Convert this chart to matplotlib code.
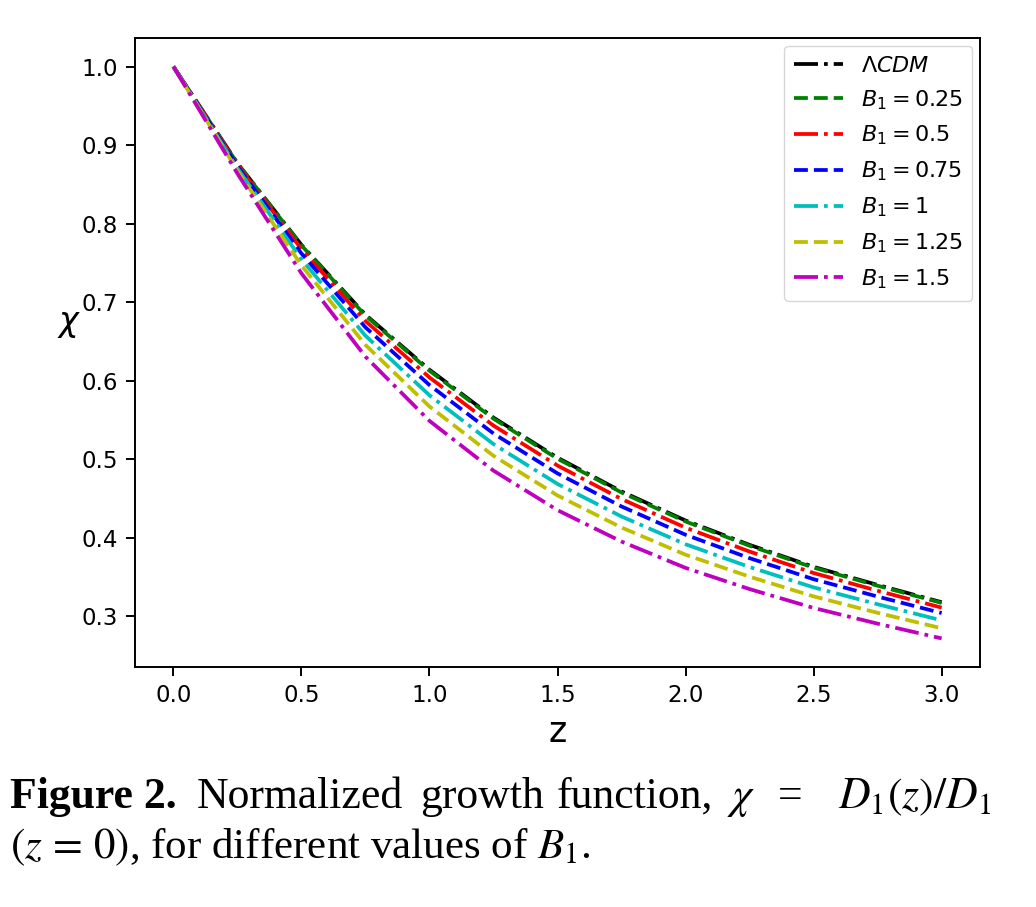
import matplotlib
matplotlib.use("Agg")
import matplotlib.pyplot as plt

# redshift grid and normalized growth chi = D1(z)/D1(z=0)
z = [0.0, 0.25, 0.5, 0.75, 1.0, 1.25, 1.5, 1.75, 2.0, 2.25, 2.5, 2.75, 3.0]

chi_lcdm = [1.000, 0.877, 0.773, 0.684, 0.614, 0.553, 0.502, 0.459, 0.422, 0.391, 0.363, 0.340, 0.318]
chi_b025 = [1.000, 0.8767, 0.7723, 0.6829, 0.6127, 0.5517, 0.5007, 0.4577, 0.4208, 0.3899, 0.3620, 0.3390, 0.3171]
chi_b05 = [1.000, 0.8750, 0.7676, 0.6760, 0.6042, 0.5429, 0.4920, 0.4494, 0.4129, 0.3825, 0.3552, 0.3326, 0.3111]
chi_b075 = [1.000, 0.8731, 0.7621, 0.6680, 0.5945, 0.5328, 0.4820, 0.4399, 0.4039, 0.3741, 0.3473, 0.3252, 0.3042]
chi_b1 = [1.000, 0.8704, 0.7548, 0.6573, 0.5815, 0.5193, 0.4686, 0.4271, 0.3918, 0.3628, 0.3369, 0.3154, 0.2949]
chi_b125 = [1.000, 0.8675, 0.7469, 0.6456, 0.5672, 0.5044, 0.4539, 0.4131, 0.3785, 0.3505, 0.3254, 0.3045, 0.2848]
chi_b15 = [1.000, 0.8638, 0.7367, 0.6306, 0.5489, 0.4855, 0.4352, 0.3952, 0.3617, 0.3347, 0.3107, 0.2907, 0.2719]

labels = [r'$\Lambda CDM$', r'$B_1 = 0.25$', r'$B_1 = 0.5$', r'$B_1 = 0.75$',
          r'$B_1 = 1$', r'$B_1 = 1.25$', r'$B_1 = 1.5$']
series = [chi_lcdm, chi_b025, chi_b05, chi_b075, chi_b1, chi_b125, chi_b15]
colors = ['k', 'g', 'r', 'b', 'c', 'y', 'm']
styles = ['-.', '--', '-.', '--', '-.', '--', '-.']

fig = plt.figure(figsize=(10.36, 9.07), dpi=100)
ax = fig.add_axes([0.1303, 0.2646, 0.8157, 0.6935])

for vals, lab, c, ls in zip(series, labels, colors, styles):
    ax.plot(z, vals, ls, color=c, label=lab, lw=2.7)

ax.set_xticks([0.0, 0.5, 1.0, 1.5, 2.0, 2.5, 3.0])
ax.set_yticks([0.3, 0.4, 0.5, 0.6, 0.7, 0.8, 0.9, 1.0])
ax.tick_params(labelsize=16.5, width=1.4, length=6.3, pad=6)
for sp in ax.spines.values():
    sp.set_linewidth(1.4)

ax.set_xlabel('z', fontsize=25, labelpad=6)
ax.set_ylabel(r'$\chi$', fontsize=24, rotation=0)
ax.yaxis.set_label_coords(-0.078, 0.52)

ax.legend(loc='upper right', fontsize=16, handlelength=2.2, borderpad=0.45,
          labelspacing=0.55, framealpha=0.8, borderaxespad=0.35)

# caption below the chart
cap = dict(fontsize=31.5, family='Liberation Serif', math_fontfamily='stix', va='baseline')
y1 = 1 - 808 / 907
fig.text(10 / 1036, y1, 'Figure 2.', weight='bold', **cap)
fig.text(197 / 1036, y1, 'Normalized', **cap)
fig.text(420 / 1036, y1, 'growth', **cap)
fig.text(557 / 1036, y1, 'function,', **cap)
fig.text(727 / 1036, y1, r'$\chi$', **cap)
fig.text(778 / 1036, y1, '=', **cap)
fig.text(838 / 1036, y1, r'$D_1(z)/D_1$', **cap)
cap2 = dict(cap, fontsize=31)
fig.text(10 / 1036, 1 - 858 / 907, r'$(z\,=\,0)$, for different values of $B_1$.', **cap2)

fig.savefig('out.png', dpi=100)
